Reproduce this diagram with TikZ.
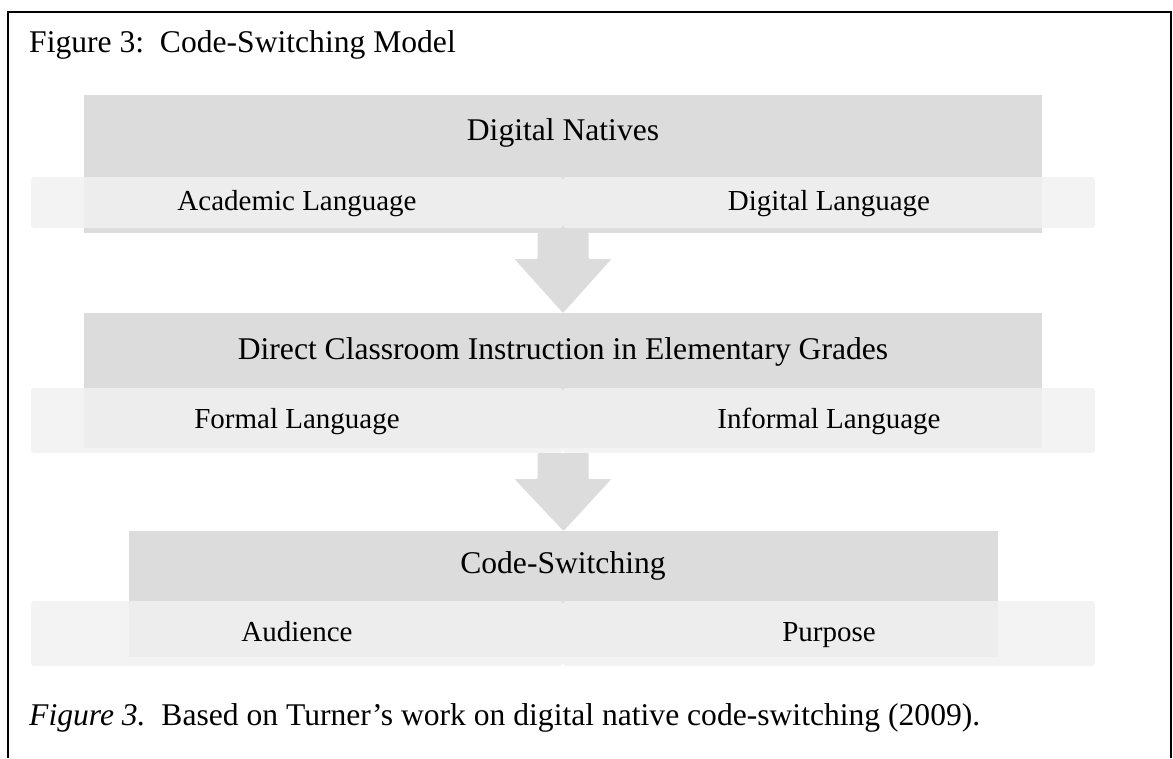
\documentclass[tikz,border=0pt]{standalone}
\usepackage{fontspec}
\setmainfont{Liberation Serif}
\usetikzlibrary{calc,positioning}
\definecolor{boxgray}{RGB}{220,220,220}
\definecolor{bargray}{RGB}{241,241,241}

\begin{document}
\begin{tikzpicture}[x=1pt,y=-1pt,
    darkbox/.style={rectangle,fill=boxgray,inner sep=0,outer sep=0},
    barbox/.style={rectangle,rounded corners=3pt,fill=bargray,fill opacity=0.85,text opacity=1,
      inner sep=0,outer sep=0,minimum width=532pt,text height=21pt,text depth=6pt,
      font=\fontsize{29}{35}\selectfont},
    headtxt/.style={inner sep=0,anchor=base,font=\fontsize{31.6}{38}\selectfont},
    flow/.style={fill=boxgray,rounded corners=1pt}]
    \useasboundingbox (0,0) rectangle (1173,758);

    % Frame (open at the bottom)
    \draw[line width=2pt] (8,758) -- (8,12) -- (1171,12) -- (1171,758);

    % Title
    \node[inner sep=0,anchor=base west,font=\fontsize{31.6}{38}\selectfont] (title) at (29,52) {Figure 3:\ \ Code-Switching Model};

    % First level (Digital Natives)
    \node[darkbox,minimum width=958pt,minimum height=138pt] (nat) at (563,164) {};
    \node[headtxt] (natlbl) at (563,140) {Digital Natives};
    \node[barbox,minimum height=51pt] (acad) at (297,202.5) {Academic Language};
    \node[barbox,minimum height=51pt] (digi) at (829,202.5) {Digital Language};

    % Second level (Direct Classroom Instruction)
    \node[darkbox,minimum width=958pt,minimum height=135pt] (dir) at (563,380.5) {};
    \node[headtxt] (dirlbl) at (563,359) {Direct Classroom Instruction in Elementary Grades};
    \node[barbox,minimum height=65pt] (form) at (297,420.5) {Formal Language};
    \node[barbox,minimum height=65pt] (inform) at (829,420.5) {Informal Language};

    % Third level (Code-Switching)
    \node[darkbox,minimum width=869pt,minimum height=126pt] (cs) at (563.5,594) {};
    \node[headtxt] (cslbl) at (563,573) {Code-Switching};
    \node[barbox,minimum height=65pt] (aud) at (297,633.5) {Audience};
    \node[barbox,minimum height=65pt] (purp) at (829,633.5) {Purpose};

    % Block arrows between the levels
    \fill[flow] ($(nat.south)+(-25.5,0)$) -- ($(nat.south)+(-25.5,26)$) -- ($(nat.south)+(-48.5,26)$)
      -- (dir.north) -- ($(nat.south)+(48.5,26)$) -- ($(nat.south)+(25.5,26)$) -- ($(nat.south)+(25.5,0)$) -- cycle;
    \fill[flow] ($(form.south east)+(-25.5,0)$) -- ($(form.south east)+(-25.5,26)$) -- ($(form.south east)+(-48.5,26)$)
      -- (cs.north) -- ($(form.south east)+(48.5,26)$) -- ($(form.south east)+(25.5,26)$) -- ($(form.south east)+(25.5,0)$) -- cycle;

    % Caption
    \node[inner sep=0,anchor=base west,font=\fontsize{31.6}{38}\selectfont] (cap) at (29,725) {\textit{Figure 3.}\ \ Based on Turner’s work on digital native code-switching (2009).};
\end{tikzpicture}
\end{document}
